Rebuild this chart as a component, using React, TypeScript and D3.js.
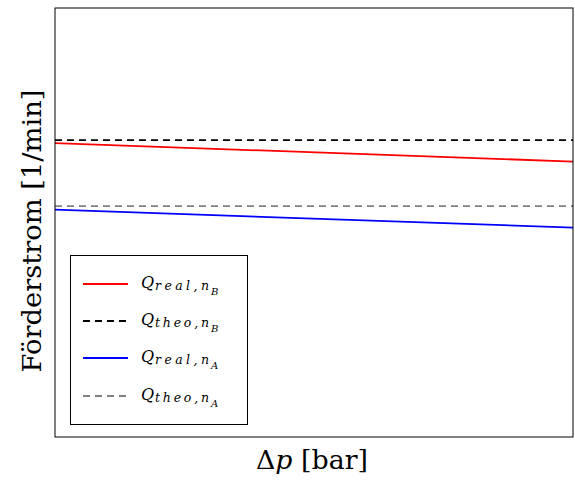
import React from "react";
import * as d3 from "d3";

const xValues = [0, 1];
const realB = [68.5, 64.2];
const theoB = [69.2, 69.2];
const realA = [53.0, 48.8];
const theoA = [53.8, 53.8];

const series = [
  { name: "real", sub: "B", values: realB, color: "#ff0000", dash: "" },
  { name: "theo", sub: "B", values: theoB, color: "#000000", dash: "7,5" },
  { name: "real", sub: "A", values: realA, color: "#0000ff", dash: "" },
  { name: "theo", sub: "A", values: theoA, color: "#808080", dash: "7,5" },
];

export default function App() {
  const W = 575, H = 482;
  const left = 55, right = 573, top = 8, bottom = 437;
  const x = d3.scaleLinear().domain([0, 1]).range([left, right]);
  const y = d3.scaleLinear().domain([0, 100]).range([bottom, top]);
  const line = d3.line<number>().x((d, i) => x(xValues[i])).y((d) => y(d));
  const font = "'DejaVu Serif', 'Liberation Serif', serif";
  const legendY = [284, 321, 358, 396];
  return (
    <svg width={W} height={H} style={{ position: "absolute", left: 0, top: 0 }}>
      <rect x={0} y={0} width={W} height={H} fill="#fff" />
      <g>
        {series.map((s, i) => (
          <path key={i} d={line(s.values) || ""} fill="none" stroke={s.color} strokeWidth={1.8} strokeDasharray={s.dash} />
        ))}
      </g>
      <rect x={left} y={top} width={right - left} height={bottom - top} fill="none" stroke="#000" strokeWidth={1} />
      <rect x={70.5} y={255.5} width={177} height={169} fill="#fff" stroke="#000" strokeWidth={1} />
      {series.map((s, i) => (
        <g key={i} fontFamily={font} fontStyle="italic" fill="#000">
          <line x1={83} x2={128} y1={legendY[i]} y2={legendY[i]} stroke={s.color} strokeWidth={1.8} strokeDasharray={s.dash} />
          <text x={141} y={legendY[i] + 4} fontSize={16}>Q</text>
          <text x={155} y={legendY[i] + 6} fontSize={12.5} textLength={54} lengthAdjust="spacing">{s.name},n</text>
          <text x={211} y={legendY[i] + 11} fontSize={10} textLength={9} lengthAdjust="spacing">{s.sub}</text>
        </g>
      ))}
      <text x={312} y={469} textAnchor="middle" fontFamily={font} fontSize={26} fill="#000" textLength={112} lengthAdjust="spacingAndGlyphs">
        Δ<tspan fontStyle="italic">p</tspan> [bar]
      </text>
      <text transform="translate(41,231) rotate(-90)" textAnchor="middle" fontFamily={font} fontSize={26} fill="#000" textLength={283} lengthAdjust="spacingAndGlyphs">
        Förderstrom [1/min]
      </text>
    </svg>
  );
}
